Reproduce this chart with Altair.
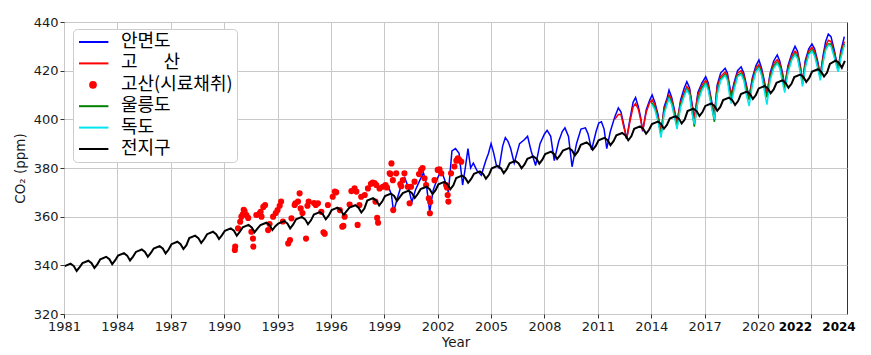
import altair as alt
import pandas as pd

# ---------------- data ----------------
series_names = ["안면도", "고\u3000\u00a0\u00a0산", "고산(시료채취)", "울릉도", "독도", "전지구"]
series_colors = ["#0000ff", "#ff0000", "#ff0000", "#008000", "#00e5ee", "#000000"]

# global mean: per year Jan, spring peak, July, late-summer trough, November
gl_years = list(range(1981, 2025))
gl_phase = [0.04, 0.37, 0.55, 0.71, 0.88]
gl_jan = [339.7, 340.9, 342.5, 344.0, 345.5, 346.9, 348.7, 351.2, 352.8, 354.2, 355.6, 356.5, 357.2, 358.9,
          360.9, 362.7, 363.7, 366.6, 368.5, 369.7, 371.3, 373.3, 375.9, 377.6, 379.9, 381.9, 383.8, 385.7,
          387.2, 389.5, 391.4, 393.4, 396.1, 398.1, 400.3, 403.4, 405.5, 407.9, 410.4, 412.7, 415.0, 417.4,
          419.6, 422.8]
gl_peak = [340.7, 341.9, 343.5, 345.0, 346.5, 347.9, 349.7, 352.2, 353.8, 355.2, 356.6, 357.5, 358.2, 359.9,
           361.9, 363.7, 364.7, 367.6, 369.5, 370.7, 372.3, 374.3, 376.9, 378.6, 380.9, 382.9, 384.8, 386.7,
           388.2, 390.5, 392.4, 394.4, 397.1, 399.1, 401.3, 404.4, 406.5, 408.9, 411.4, 413.7, 416.0, 418.4,
           420.6, 424.2]
gl_jul = [339.7, 340.9, 342.5, 344.0, 345.5, 346.9, 348.7, 351.2, 352.8, 354.2, 355.6, 356.5, 357.2, 358.9,
          360.9, 362.7, 363.7, 366.6, 368.5, 369.7, 371.3, 373.3, 375.9, 377.6, 379.9, 381.9, 383.8, 385.7,
          387.2, 389.5, 391.4, 393.4, 396.1, 398.1, 400.3, 403.4, 405.5, 407.9, 410.4, 412.7, 415.0, 417.4,
          419.6, 423.2]
gl_trough = [337.7, 338.9, 340.5, 342.0, 343.5, 344.9, 346.7, 349.2, 350.8, 352.2, 353.6, 354.5, 355.2, 356.9,
             358.9, 360.7, 361.7, 364.6, 366.5, 367.7, 369.3, 371.3, 373.9, 375.6, 377.9, 379.9, 381.8, 383.7,
             385.2, 387.5, 389.4, 391.4, 394.1, 396.1, 398.3, 401.4, 403.5, 405.9, 408.4, 410.7, 413.0, 415.4,
             417.6, 421.2]
gl_nov = [339.3, 340.5, 342.1, 343.6, 345.1, 346.5, 348.3, 350.8, 352.4, 353.8, 355.2, 356.1, 356.8, 358.5,
          360.5, 362.3, 363.3, 366.2, 368.1, 369.3, 370.9, 372.9, 375.5, 377.2, 379.5, 381.5, 383.4, 385.3,
          386.8, 389.1, 391.0, 393.0, 395.7, 397.7, 399.9, 403.0, 405.1, 407.5, 410.0, 412.3, 414.6, 417.0,
          419.2, 424.0]

# Anmyeon-do
am_t = [1999.25, 1999.4, 1999.52, 1999.75, 2000.0, 2000.15, 2000.35, 2000.55, 2000.75,
        2001.0, 2001.2, 2001.35, 2001.55, 2001.75, 2002.0, 2002.2, 2002.4, 2002.6, 2002.8,
        2003.0, 2003.2, 2003.4, 2003.55, 2003.7, 2003.85, 2004.0, 2004.2, 2004.45, 2004.7, 2004.85,
        2005.0, 2005.15, 2005.3, 2005.45, 2005.65, 2005.8, 2005.95, 2006.1, 2006.3, 2006.6, 2006.85,
        2007.05, 2007.25, 2007.5, 2007.75, 2008.0, 2008.15, 2008.35, 2008.55, 2008.8, 2009.0, 2009.15,
        2009.35, 2009.55, 2009.8, 2010.05, 2010.3, 2010.45, 2010.65, 2010.9, 2011.05, 2011.2, 2011.35,
        2011.5, 2011.7, 2011.95, 2012.15, 2012.3, 2012.45, 2012.62,
        2012.8, 2012.98, 2013.12, 2013.28, 2013.4, 2013.52, 2013.72, 2013.92, 2014.05, 2014.2, 2014.38,
        2014.55, 2014.72, 2014.9, 2015.0, 2015.15, 2015.3, 2015.45, 2015.65, 2015.85, 2016.0, 2016.15,
        2016.28, 2016.42, 2016.62, 2016.85, 2017.06, 2017.2, 2017.38, 2017.55, 2017.7, 2017.9, 2018.15,
        2018.28, 2018.4, 2018.5, 2018.65, 2018.85, 2019.05, 2019.2, 2019.35, 2019.5, 2019.68, 2019.88,
        2020.05, 2020.2, 2020.35, 2020.5, 2020.68, 2020.88, 2021.08, 2021.22, 2021.38, 2021.5, 2021.68,
        2021.9, 2022.08, 2022.22, 2022.38, 2022.5, 2022.65, 2022.85, 2023.03, 2023.18, 2023.35, 2023.5,
        2023.65, 2023.8, 2023.95, 2024.1, 2024.3, 2024.5, 2024.65, 2024.85]
am_v = [372, 369, 362, 368, 374, 376, 372, 366, 371,
        375, 378, 374, 362, 371, 376, 379, 375, 370, 387,
        388, 386, 373, 380, 388, 380, 382, 379, 377, 383, 386,
        390, 386, 381, 380, 389, 392.5, 391, 388, 382, 390, 391.5,
        393, 387, 381, 390, 394, 395.5, 393, 383, 391, 395, 396.5,
        393, 380.5, 390, 396, 396.5, 394, 387.5, 395, 398.5, 399, 396,
        388, 395, 401, 404.7, 403, 398, 392,
        400, 407, 409, 405, 401, 395, 404, 408, 410, 407, 402,
        394, 405, 409, 412, 409, 404, 398.5, 408, 412.8, 415.5, 413,
        407, 400, 411, 415, 417.5, 415, 408, 401, 414, 419, 421,
        419, 414, 410, 415, 420, 421.6, 419, 414, 409, 417, 422,
        424.4, 421, 416, 410, 419, 424, 426.5, 424, 419, 413.5, 422,
        427, 430, 428, 422, 415, 424, 429, 431, 429, 424, 418,
        426, 432, 435, 434, 428, 420, 428, 434]

# Gosan (continuous)
gs_t = [2011.95, 2012.15, 2012.3, 2012.45, 2012.62,
        2012.8, 2012.98, 2013.12, 2013.28, 2013.4, 2013.52, 2013.72, 2013.92, 2014.05, 2014.2, 2014.38,
        2014.55, 2014.72, 2014.9, 2015.0, 2015.15, 2015.3, 2015.45, 2015.65, 2015.85, 2016.0, 2016.15,
        2016.28, 2016.42, 2016.62, 2016.85, 2017.06, 2017.2, 2017.38, 2017.55, 2017.7, 2017.9, 2018.15,
        2018.28, 2018.4, 2018.5, 2018.65, 2018.85, 2019.05, 2019.2, 2019.35, 2019.5, 2019.68, 2019.88,
        2020.05, 2020.2, 2020.35, 2020.5, 2020.68, 2020.88, 2021.08, 2021.22, 2021.38, 2021.5, 2021.68,
        2021.9, 2022.08, 2022.22, 2022.38, 2022.5, 2022.65, 2022.85, 2023.03, 2023.18, 2023.35, 2023.5,
        2023.65, 2023.8, 2023.95, 2024.1, 2024.3, 2024.5, 2024.65, 2024.85]
gs_v = [400, 402, 402, 397, 392,
        399, 405, 406.5, 404, 400, 395.5, 403, 407, 408, 406, 401,
        395, 404, 408, 410, 408, 403, 399, 407, 411, 413.5, 412,
        406, 400.5, 410, 414, 416, 414, 407, 402, 413, 417.5, 419.5,
        418, 413, 410, 414, 419, 420, 418, 413, 409.5, 416, 421,
        422.5, 420, 415, 411, 418, 423, 424.5, 423, 418, 414, 421,
        426, 428, 427, 421, 416, 423, 428, 429.5, 428, 423, 418.5,
        425, 430, 432.5, 432, 427, 421, 427, 432]

# Gosan flask samples
fl_t = [1990.6, 1990.62, 1990.78, 1990.9, 1990.97, 1991.05, 1991.1, 1991.15, 1991.25, 1991.35, 1991.53,
        1991.62, 1991.64, 1991.81, 1992.0, 1992.05, 1992.1, 1992.2, 1992.3, 1992.47, 1992.55, 1992.75,
        1992.9, 1993.0, 1993.12, 1993.2, 1993.3, 1993.6, 1993.7, 1993.78, 1993.96, 1994.0, 1994.15,
        1994.24, 1994.3, 1994.4, 1994.6, 1994.68, 1994.75, 1995.05, 1995.15, 1995.27, 1995.46, 1995.58,
        1995.65, 1995.83, 1996.1, 1996.22, 1996.3, 1996.5, 1996.64, 1996.7, 1996.77, 1997.05, 1997.15,
        1997.33, 1997.43, 1997.5, 1997.6, 1997.7, 1997.9, 1998.08, 1998.25, 1998.35, 1998.45, 1998.5,
        1998.55, 1998.6, 1998.65, 1998.73, 1998.92, 1999.07, 1999.15, 1999.3, 1999.35, 1999.4, 1999.48,
        1999.5, 1999.67, 1999.9, 1999.95, 2000.04, 2000.13, 2000.32, 2000.42, 2000.5, 2000.7, 2000.95,
        2001.07, 2001.15, 2001.26, 2001.35, 2001.5, 2001.56, 2001.58, 2001.82, 2002.0, 2002.1, 2002.2,
        2002.47, 2002.52, 2002.56, 2002.6, 2002.75, 2002.94, 2003.05, 2003.13, 2003.2, 2003.32]
fl_v = [346.3, 347.7, 355.2, 357.9, 360.0, 361.0, 362.8, 362.2, 360.7, 359.5, 353.8,
        351.0, 347.7, 360.7, 361.4, 362.0, 360.0, 364.0, 364.8, 354.5, 357.0, 360.0,
        361.5, 362.7, 364.5, 366.2, 358.0, 349.0, 350.4, 359.3, 364.8, 365.5, 366.2,
        369.6, 363.4, 361.5, 351.0, 364.5, 366.2, 365.6, 364.8, 365.5, 362.0, 353.6,
        353.0, 364.8, 368.2, 370.3, 370.0, 362.7, 355.9, 356.2, 360.0, 365.0, 370.5,
        371.6, 370.3, 356.6, 364.8, 368.2, 368.9, 371.6, 373.5, 374.0, 373.8, 366.2,
        373.0, 359.5, 357.5, 371.6, 372.3, 373.0, 372.0, 377.8, 377.5, 381.9, 375.0,
        362.7, 377.8, 373.4, 372.5, 375.0, 377.8, 372.3, 365.5, 372.3, 374.4, 377.5,
        379.2, 380.0, 375.8, 373.0, 367.5, 361.4, 366.0, 375.0, 379.2, 379.5, 377.8,
        373.0, 372.0, 368.9, 366.2, 377.8, 380.6, 383.0, 384.0, 383.5, 382.6]

# Ulleung-do
ul_t = [2014.0, 2014.2, 2014.38, 2014.55, 2014.72, 2014.9, 2015.0, 2015.15, 2015.3, 2015.45, 2015.65,
        2015.85, 2016.0, 2016.15, 2016.28, 2016.42, 2016.62, 2016.85, 2017.06, 2017.2, 2017.38, 2017.55,
        2017.7, 2017.9, 2018.15, 2018.28, 2018.4, 2018.5, 2018.65, 2018.85, 2019.05, 2019.2, 2019.35,
        2019.5, 2019.68, 2019.88, 2020.05, 2020.2, 2020.35, 2020.5, 2020.68, 2020.88, 2021.08, 2021.22,
        2021.38, 2021.5, 2021.68, 2021.9, 2022.08, 2022.22, 2022.38, 2022.5, 2022.65, 2022.85, 2023.03,
        2023.18, 2023.35, 2023.5, 2023.65, 2023.8, 2023.95, 2024.1, 2024.3, 2024.5, 2024.65, 2024.85]
ul_v = [407, 405, 400, 393.5, 403, 407, 409, 407, 402, 397, 406,
        410, 412.5, 411, 404, 397, 408, 413, 415, 413, 406, 399,
        411, 416.5, 418.5, 417, 412, 408, 413, 418, 419, 417, 412,
        408, 415, 420, 421.5, 419, 414, 409, 417, 422, 423.5, 422,
        417, 412.5, 420, 425, 427, 426, 420, 414.5, 422, 427, 428.5,
        427, 422, 417, 424, 429, 431, 431, 426, 420, 426, 431]

# Dok-do
dk_t = [2014.05, 2014.2, 2014.38, 2014.55, 2014.72, 2014.9, 2015.0, 2015.15, 2015.3, 2015.45, 2015.65,
        2015.85, 2016.0, 2016.15, 2016.28, 2016.42, 2016.62, 2016.85, 2017.06, 2017.2, 2017.38, 2017.55,
        2017.7, 2017.9, 2018.15, 2018.28, 2018.4, 2018.5, 2018.65, 2018.85, 2019.05, 2019.2, 2019.35,
        2019.5, 2019.68, 2019.88, 2020.05, 2020.2, 2020.35, 2020.5, 2020.68, 2020.88, 2021.08, 2021.22,
        2021.38, 2021.5, 2021.68, 2021.9, 2022.08, 2022.22, 2022.38, 2022.5, 2022.65, 2022.85, 2023.03,
        2023.18, 2023.35, 2023.5, 2023.65, 2023.8, 2023.95, 2024.1, 2024.3, 2024.5, 2024.65, 2024.85]
dk_v = [406, 404, 399, 392.5, 402, 406.5, 408.5, 406, 401, 396, 405,
        409.5, 412, 410, 403, 398, 407, 412, 414.5, 412, 405, 400,
        410, 416, 418, 416, 410, 406.5, 412, 417.5, 418.5, 416, 410,
        405.5, 414, 419.5, 421, 418, 412, 406, 416, 421, 423, 421,
        415, 411, 419, 424.5, 426.5, 425, 419, 413.5, 421, 426.5, 428,
        426, 421, 416, 423, 428.5, 430.5, 430, 425, 419.5, 425, 430.5]

x_ticks = [1981, 1984, 1987, 1990, 1993, 1996, 1999, 2002, 2005, 2008, 2011, 2014, 2017, 2020, 2023]
y_ticks = [320, 340, 360, 380, 400, 420, 440]
bold_labels = ["2022", "2024"]
bold_pos = [2022.1, 2024.55]

# ---------------- tables ----------------
gl_rows = []
for i, yr in enumerate(gl_years):
    for ph, val in zip(gl_phase, [gl_jan[i], gl_peak[i], gl_jul[i], gl_trough[i], gl_nov[i]]):
        gl_rows.append((yr + ph, val))

def frame(ts, vs, name):
    return pd.DataFrame({"t": ts, "v": vs, "series": name})

df_am = frame(am_t, am_v, series_names[0])
df_gs = frame(gs_t, gs_v, series_names[1])
df_fl = frame(fl_t, fl_v, series_names[2])
df_ul = frame(ul_t, ul_v, series_names[3])
df_dk = frame(dk_t, dk_v, series_names[4])
df_gl = pd.DataFrame({"t": [r[0] for r in gl_rows], "v": [r[1] for r in gl_rows], "series": series_names[5]})
df_bold = pd.DataFrame({"t": bold_pos, "label": bold_labels})

xscale = alt.Scale(domain=[1981, 2025], nice=False, zero=False)
yscale = alt.Scale(domain=[320, 440], nice=False, zero=False)
cscale = alt.Scale(domain=series_names, range=series_colors)

xenc = alt.X("t:Q", scale=xscale, title="Year",
             axis=alt.Axis(values=x_ticks, format="d",
                           labelExpr="datum.value == 2023 ? '' : datum.label"))
yenc = alt.Y("v:Q", scale=yscale, title="CO\u2082 (ppm)", axis=alt.Axis(values=y_ticks))

flask = series_names[2]
line_path = "M-1,0H3.2"
dot_path = "M1,-0.41A0.41,0.41,0,1,1,1,0.41A0.41,0.41,0,1,1,1,-0.41Z"
legend = alt.Legend(
    title=None, orient="none", legendX=9, legendY=7,
    fillColor="white", strokeColor="#cccccc", cornerRadius=4, padding=4,
    labelFont="Noto Sans CJK KR", labelFontSize=18, labelColor="black",
    labelOffset=26, symbolSize=196, symbolStrokeWidth=2, symbolOpacity=1,
    rowPadding=3.4,
    symbolType=alt.ExprRef(expr=f"datum.value == '{flask}' ? '{dot_path}' : '{line_path}'"),
    symbolStrokeColor=alt.ExprRef(expr="scale('color', datum.value)"),
    symbolFillColor=alt.ExprRef(expr=f"datum.value == '{flask}' ? scale('color', datum.value) : 'transparent'"),
)
color_enc = alt.Color("series:N", scale=cscale, legend=legend)

def line_layer(d, w=1.5):
    return alt.Chart(d).mark_line(strokeWidth=w).encode(x=xenc, y=yenc, color=color_enc)

pts = alt.Chart(df_fl).mark_circle(size=38, opacity=1).encode(x=xenc, y=yenc, color=color_enc)

bold = alt.Chart(df_bold).mark_text(font="DejaVu Sans", fontSize=12, fontWeight="bold",
                                    baseline="middle", color="black").encode(
    x=xenc, y=alt.value(305), text="label:N")

chart = alt.layer(
    line_layer(df_am), line_layer(df_gs), pts, line_layer(df_ul), line_layer(df_dk),
    line_layer(df_gl, 2.0), bold
).properties(
    width=783, height=292,
    autosize=alt.AutoSizeParams(type="none"),
    padding={"left": 56, "top": 14, "right": 16, "bottom": 34},
).configure_view(
    stroke="#333333", strokeWidth=1
).configure_axis(
    grid=True, gridColor="#c8c8c8", gridWidth=1, domain=False,
    tickColor="#333333", tickSize=4, labelPadding=2,
    labelFont="DejaVu Sans", labelFontSize=13, labelColor="#1a1a1a",
    titleFont="DejaVu Sans", titleFontSize=13.5, titleFontWeight="normal", titleColor="#1a1a1a",
).configure_axisX(titlePadding=2, labelFlush=False).configure_axisY(titlePadding=6)

chart.save("out.html", embed_options={"renderer": "svg", "actions": False})
